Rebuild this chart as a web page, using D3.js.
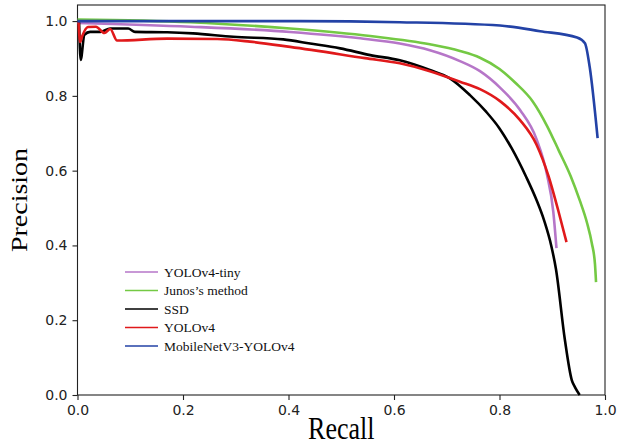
<!DOCTYPE html>
<html>
<head>
<meta charset="utf-8">
<script src="https://cdn.jsdelivr.net/npm/d3@7/dist/d3.min.js"></script>
<style>
  html, body { margin: 0; padding: 0; background: #fff; }
  svg { display: block; }
</style>
</head>
<body>
<svg id="chart" width="617" height="447"></svg>
<script>
// Precision-recall curves, one per detector
const seriesNames = ["YOLOv4-tiny", "Junos\u2019s method", "SSD", "YOLOv4", "MobileNetV3-YOLOv4"];
const seriesColors = ["#b676c8", "#74c944", "#000000", "#e0191b", "#2342a6"];

const tinyRecall = [0.0, 0.214, 0.403, 0.536, 0.611, 0.668, 0.725, 0.763, 0.801, 0.839, 0.870, 0.890, 0.902, 0.908];
const tinyPrecision = [0.995, 0.985, 0.971, 0.954, 0.940, 0.922, 0.893, 0.866, 0.822, 0.762, 0.685, 0.590, 0.490, 0.393];

const junosRecall = [0.0, 0.214, 0.403, 0.555, 0.668, 0.725, 0.763, 0.800, 0.830, 0.863, 0.890, 0.912, 0.935, 0.952, 0.966, 0.975, 0.981, 0.983];
const junosPrecision = [1.004, 0.997, 0.980, 0.960, 0.938, 0.920, 0.902, 0.872, 0.835, 0.785, 0.720, 0.655, 0.585, 0.521, 0.460, 0.406, 0.350, 0.302];

const ssdRecall = [0.003, 0.006, 0.013, 0.024, 0.043, 0.062, 0.096, 0.109, 0.170, 0.219, 0.295, 0.390, 0.441, 0.498, 0.555, 0.611, 0.668, 0.706, 0.744, 0.775, 0.800, 0.823, 0.850, 0.870, 0.885, 0.898, 0.907, 0.924, 0.937, 0.943, 0.952];
const ssdPrecision = [0.997, 0.896, 0.963, 0.971, 0.971, 0.980, 0.980, 0.971, 0.970, 0.967, 0.958, 0.951, 0.940, 0.927, 0.909, 0.895, 0.869, 0.847, 0.802, 0.757, 0.713, 0.660, 0.585, 0.522, 0.465, 0.400, 0.337, 0.147, 0.040, 0.021, 0.0];

const v4Recall = [0.002, 0.005, 0.009, 0.020, 0.035, 0.051, 0.062, 0.075, 0.170, 0.265, 0.327, 0.403, 0.545, 0.611, 0.668, 0.725, 0.763, 0.801, 0.839, 0.870, 0.893, 0.912, 0.927];
const v4Precision = [0.997, 0.944, 0.960, 0.984, 0.985, 0.968, 0.979, 0.948, 0.953, 0.952, 0.945, 0.931, 0.901, 0.887, 0.866, 0.838, 0.818, 0.786, 0.735, 0.670, 0.585, 0.490, 0.409];

const mobileRecall = [0.0, 0.422, 0.611, 0.801, 0.877, 0.947, 0.962, 0.971, 0.986];
const mobilePrecision = [1.0, 1.0, 0.997, 0.988, 0.973, 0.956, 0.941, 0.877, 0.687];

const xTicks = [0.0, 0.2, 0.4, 0.6, 0.8, 1.0];
const yTicks = [0.0, 0.2, 0.4, 0.6, 0.8, 1.0];

const recalls = [tinyRecall, junosRecall, ssdRecall, v4Recall, mobileRecall];
const precisions = [tinyPrecision, junosPrecision, ssdPrecision, v4Precision, mobilePrecision];

const series = seriesNames.map((name, i) => ({
  name,
  color: seriesColors[i],
  points: recalls[i].map((r, j) => ({ r, p: precisions[i][j] }))
}));

const margin = { left: 77.5, right: 12, top: 5, bottom: 52 };
const W = 617, H = 447;
const yMax = 1.043;
const svg = d3.select("#chart");

const x = d3.scaleLinear().domain([0, 1]).range([margin.left, W - margin.right]);
const y = d3.scaleLinear().domain([0, yMax]).range([H - margin.bottom, margin.top]);

// plot frame
svg.append("rect")
  .attr("x", x(0)).attr("y", y(yMax))
  .attr("width", x(1) - x(0)).attr("height", y(0) - y(yMax))
  .attr("fill", "none").attr("stroke", "#222").attr("stroke-width", 1.1);

const tickFont = "'DejaVu Sans', sans-serif";

const xAxis = svg.append("g")
  .attr("transform", `translate(0,${y(0)})`)
  .call(d3.axisBottom(x).tickValues(xTicks).tickFormat(d3.format(".1f")).tickSize(5).tickPadding(5));
const yAxis = svg.append("g")
  .attr("transform", `translate(${x(0)},0)`)
  .call(d3.axisLeft(y).tickValues(yTicks).tickFormat(d3.format(".1f")).tickSize(5).tickPadding(5));

[xAxis, yAxis].forEach(g => {
  g.select(".domain").remove();
  g.selectAll("line").attr("stroke", "#222").attr("stroke-width", 1.1);
  g.selectAll("text").attr("fill", "#222")
    .style("font-family", tickFont).style("font-size", "14px");
});

// curves
const line = d3.line()
  .x(d => x(d.r))
  .y(d => y(d.p))
  .curve(d3.curveMonotoneX);

svg.append("g").selectAll("path")
  .data(series)
  .join("path")
  .attr("d", d => line(d.points))
  .attr("fill", "none")
  .attr("stroke", d => d.color)
  .attr("stroke-width", 2.6)
  .attr("stroke-linejoin", "round")
  .attr("stroke-linecap", "butt");

// axis titles (slightly condensed serif)
const serif = "'Liberation Serif', 'Times New Roman', serif";
svg.append("text")
  .attr("transform", `translate(${(x(0) + x(1)) / 2},439) scale(0.84,1)`)
  .attr("text-anchor", "middle")
  .style("font-family", serif).style("font-size", "31px")
  .text("Recall");
svg.append("text")
  .attr("transform", `translate(27,${(y(0) + y(yMax)) / 2}) scale(0.82,1) rotate(-90)`)
  .attr("text-anchor", "middle")
  .style("font-family", serif).style("font-size", "28px")
  .text("Precision");

// legend
const legendRow = d3.scaleLinear().domain([0, 4]).range([272, 346]);
const legend = svg.append("g");
series.forEach((s, i) => {
  const ly = legendRow(i);
  legend.append("line")
    .attr("x1", 125).attr("x2", 158)
    .attr("y1", ly).attr("y2", ly)
    .attr("stroke", s.color).attr("stroke-width", 1.6);
  legend.append("text")
    .attr("x", 164).attr("y", ly + 4.5)
    .style("font-family", serif).style("font-size", "13.5px")
    .attr("fill", "#111")
    .text(s.name);
});
</script>
</body>
</html>
